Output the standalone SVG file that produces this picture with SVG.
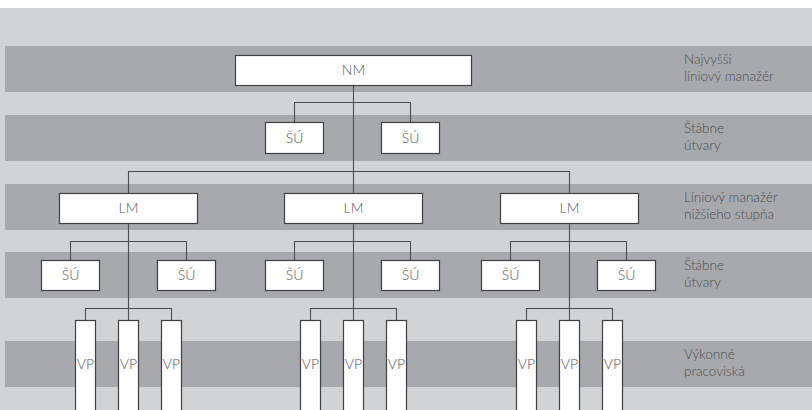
<svg xmlns="http://www.w3.org/2000/svg" width="812" height="410" viewBox="0 0 812 410">
  <style>
    .band { fill: #a7a9ac; }
    .box { fill: #ffffff; stroke: #414042; stroke-width: 1.2; }
    .wire { fill: none; stroke: #4d4d4f; stroke-width: 1.1; }
    .lbl { font-family: Lato, "Open Sans", "Liberation Sans", sans-serif; font-weight: 300; font-size: 14px; fill: #58595b; text-anchor: middle; }
    .side { font-family: Lato, "Open Sans", "Liberation Sans", sans-serif; font-weight: 300; font-size: 13.5px; fill: #4d4e50; }
  </style>

  <!-- background and level bands -->
  <rect x="0" y="0" width="812" height="410" fill="#ffffff"/>
  <rect x="0" y="8" width="812" height="402" fill="#d1d3d4"/>
  <rect class="band" x="5" y="46" width="807" height="46"/>
  <rect class="band" x="5" y="115" width="807" height="46"/>
  <rect class="band" x="5" y="184" width="807" height="46"/>
  <rect class="band" x="5" y="252" width="807" height="46"/>
  <rect class="band" x="5" y="341" width="807" height="46"/>

  <!-- level captions -->
  <g id="captions">
    <text class="side" x="684" y="64">Najvyšší</text>
    <text class="side" x="684" y="81">líniový manažér</text>
    <text class="side" x="684" y="133">Štábne</text>
    <text class="side" x="684" y="150">útvary</text>
    <text class="side" x="684" y="202">Líniový manažér</text>
    <text class="side" x="684" y="219">nižšieho stupňa</text>
    <text class="side" x="684" y="270">Štábne</text>
    <text class="side" x="684" y="287">útvary</text>
    <text class="side" x="684" y="359">Výkonné</text>
    <text class="side" x="684" y="376">pracoviská</text>
  </g>

  <!-- connectors -->
  <g id="connectors" class="wire">
    <!-- top manager trunk -->
    <path d="M353.5 85.5 V193.5"/>
    <path d="M294.5 122.5 V102.5 H410.5 V122.5"/>
    <path d="M128.5 193.5 V171.5 H569.5 V193.5"/>
    <!-- lower managers trunks -->
    <path d="M128.5 223.5 V320.5"/>
    <path d="M353.5 223.5 V320.5"/>
    <path d="M569.5 223.5 V320.5"/>
    <!-- staff branches -->
    <path d="M70.5 260.5 V241.5 H186.5 V260.5"/>
    <path d="M294.5 260.5 V241.5 H410.5 V260.5"/>
    <path d="M510.5 260.5 V241.5 H626.5 V260.5"/>
    <!-- workplace branches -->
    <path d="M85.5 320.5 V308.5 H171.5 V320.5"/>
    <path d="M310.5 320.5 V308.5 H396.5 V320.5"/>
    <path d="M526.5 320.5 V308.5 H612.5 V320.5"/>
  </g>

  <!-- top manager -->
  <g id="nm">
    <rect class="box" x="235.5" y="55.5" width="236" height="30"/>
    <text class="lbl" x="353.5" y="75">NM</text>
  </g>

  <!-- top staff units -->
  <g id="su-top-1">
    <rect class="box" x="265.5" y="122.5" width="58" height="31"/>
    <text class="lbl" x="294.5" y="143">ŠÚ</text>
  </g>
  <g id="su-top-2">
    <rect class="box" x="381.5" y="122.5" width="58" height="31"/>
    <text class="lbl" x="410.5" y="143">ŠÚ</text>
  </g>

  <!-- lower line managers -->
  <g id="lm-1">
    <rect class="box" x="59.5" y="193.5" width="138" height="30"/>
    <text class="lbl" x="128.5" y="213">LM</text>
  </g>
  <g id="lm-2">
    <rect class="box" x="284.5" y="193.5" width="138" height="30"/>
    <text class="lbl" x="353.5" y="213">LM</text>
  </g>
  <g id="lm-3">
    <rect class="box" x="500.5" y="193.5" width="138" height="30"/>
    <text class="lbl" x="569.5" y="213">LM</text>
  </g>

  <!-- staff units under each manager -->
  <g id="su-1a">
    <rect class="box" x="41.5" y="260.5" width="58" height="30"/>
    <text class="lbl" x="70.5" y="280">ŠÚ</text>
  </g>
  <g id="su-1b">
    <rect class="box" x="157.5" y="260.5" width="58" height="30"/>
    <text class="lbl" x="186.5" y="280">ŠÚ</text>
  </g>
  <g id="su-2a">
    <rect class="box" x="265.5" y="260.5" width="58" height="30"/>
    <text class="lbl" x="294.5" y="280">ŠÚ</text>
  </g>
  <g id="su-2b">
    <rect class="box" x="381.5" y="260.5" width="58" height="30"/>
    <text class="lbl" x="410.5" y="280">ŠÚ</text>
  </g>
  <g id="su-3a">
    <rect class="box" x="481.5" y="260.5" width="58" height="30"/>
    <text class="lbl" x="510.5" y="280">ŠÚ</text>
  </g>
  <g id="su-3b">
    <rect class="box" x="597.5" y="260.5" width="58" height="30"/>
    <text class="lbl" x="626.5" y="280">ŠÚ</text>
  </g>

  <!-- workplaces -->
  <g id="vp-1a"><rect class="box" x="75.5" y="320.5" width="20" height="100"/><text class="lbl" x="85.5" y="369">VP</text></g>
  <g id="vp-1b"><rect class="box" x="118.5" y="320.5" width="20" height="100"/><text class="lbl" x="128.5" y="369">VP</text></g>
  <g id="vp-1c"><rect class="box" x="161.5" y="320.5" width="20" height="100"/><text class="lbl" x="171.5" y="369">VP</text></g>
  <g id="vp-2a"><rect class="box" x="300.5" y="320.5" width="20" height="100"/><text class="lbl" x="310.5" y="369">VP</text></g>
  <g id="vp-2b"><rect class="box" x="343.5" y="320.5" width="20" height="100"/><text class="lbl" x="353.5" y="369">VP</text></g>
  <g id="vp-2c"><rect class="box" x="386.5" y="320.5" width="20" height="100"/><text class="lbl" x="396.5" y="369">VP</text></g>
  <g id="vp-3a"><rect class="box" x="516.5" y="320.5" width="20" height="100"/><text class="lbl" x="526.5" y="369">VP</text></g>
  <g id="vp-3b"><rect class="box" x="559.5" y="320.5" width="20" height="100"/><text class="lbl" x="569.5" y="369">VP</text></g>
  <g id="vp-3c"><rect class="box" x="602.5" y="320.5" width="20" height="100"/><text class="lbl" x="612.5" y="369">VP</text></g>
</svg>
